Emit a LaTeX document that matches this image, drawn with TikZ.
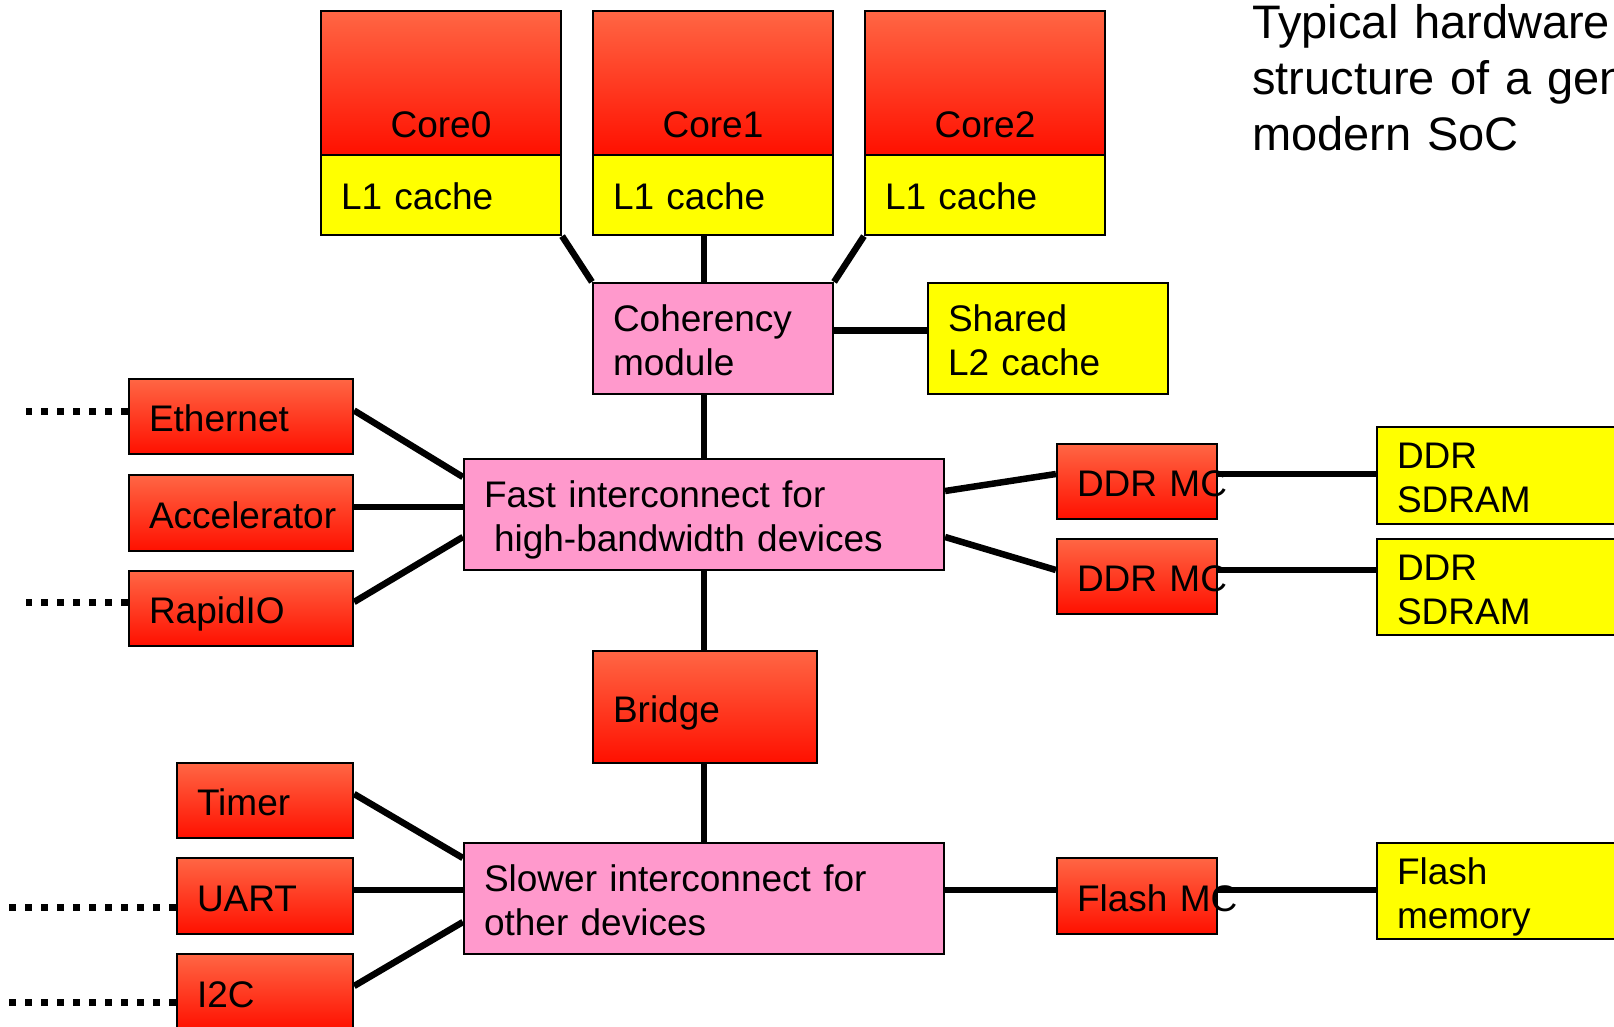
\documentclass[tikz,border=0pt]{standalone}
\usepackage{fontspec}
\setmainfont{Liberation Sans}
\usetikzlibrary{backgrounds}
\definecolor{redtop}{RGB}{255,102,68}
\definecolor{redbottom}{RGB}{255,16,0}
\definecolor{pinkfill}{RGB}{255,153,204}
\definecolor{yellowfill}{RGB}{255,255,0}
\begin{document}
\begin{tikzpicture}[x=1pt, y=-1pt,
  box/.style={draw=black, line width=2.2pt, rectangle, inner xsep=20pt, inner ysep=0pt,
    align=left, font=\fontsize{37}{44}\selectfont, text height=30pt, text depth=0pt},
  twolines/.style={text depth=44pt},
  redbox/.style={box, top color=redtop, bottom color=redbottom},
  pinkbox/.style={box, fill=pinkfill},
  yellowbox/.style={box, fill=yellowfill},
  corebox/.style={redbox, align=center, text height=110pt},
  wire/.style={line width=6.5pt},
  offchip/.style={line width=7pt, dash pattern=on 7pt off 9pt},
  caption/.style={inner sep=0pt, align=left, text width=480pt,
    font=\fontsize{47}{56}\selectfont}
]
\useasboundingbox (0,0) rectangle (1614,1027);
\clip (0,0) rectangle (1614,1027);

% processor cores with their private caches
\node[corebox, minimum width=240pt, minimum height=144pt, text width=200pt] (core0) at (441,83) {Core0};
\node[yellowbox, minimum width=240pt, minimum height=80pt, text width=200pt] (l1a) at (441,195) {L1 cache};
\node[corebox, minimum width=240pt, minimum height=144pt, text width=200pt] (core1) at (713,83) {Core1};
\node[yellowbox, minimum width=240pt, minimum height=80pt, text width=200pt] (l1b) at (713,195) {L1 cache};
\node[corebox, minimum width=240pt, minimum height=144pt, text width=200pt] (core2) at (985,83) {Core2};
\node[yellowbox, minimum width=240pt, minimum height=80pt, text width=200pt] (l1c) at (985,195) {L1 cache};

% coherency and shared cache
\node[pinkbox, twolines, minimum width=240pt, minimum height=111pt, text width=200pt] (coh) at (713,338.5) {Coherency\\module};
\node[yellowbox, twolines, minimum width=240pt, minimum height=111pt, text width=200pt] (l2) at (1048,338.5) {Shared\\L2 cache};

% fast interconnect and its devices
\node[pinkbox, twolines, minimum width=480pt, minimum height=111pt, text width=440pt] (fast) at (704,514.5) {Fast interconnect for\\\hspace*{10pt}high-bandwidth devices};
\node[redbox, minimum width=224pt, minimum height=75pt, text width=184pt] (eth) at (241,416.5) {Ethernet};
\node[redbox, minimum width=224pt, minimum height=76pt, text width=184pt] (acc) at (241,513) {Accelerator};
\node[redbox, minimum width=224pt, minimum height=75pt, text width=184pt] (rio) at (241,608.5) {RapidIO};

% memory controllers and DRAM
\node[redbox, minimum width=160pt, minimum height=75pt, text width=120pt] (ddr1) at (1137,481.5) {\mbox{DDR MC}};
\node[redbox, minimum width=160pt, minimum height=75pt, text width=120pt] (ddr2) at (1137,576.5) {\mbox{DDR MC}};
\node[yellowbox, twolines, minimum width=273pt, minimum height=97pt, text width=233pt] (sd1) at (1513.5,475.5) {DDR\\SDRAM};
\node[yellowbox, twolines, minimum width=273pt, minimum height=96pt, text width=233pt] (sd2) at (1513.5,587) {DDR\\SDRAM};

% bridge and slow interconnect
\node[redbox, minimum width=224pt, minimum height=112pt, text width=184pt] (bridge) at (705,707) {Bridge};
\node[pinkbox, twolines, minimum width=480pt, minimum height=111pt, text width=440pt] (slow) at (704,898.5) {Slower interconnect for\\other devices};
\node[redbox, minimum width=176pt, minimum height=75pt, text width=136pt] (timer) at (265,800.5) {Timer};
\node[redbox, minimum width=176pt, minimum height=76pt, text width=136pt] (uart) at (265,896) {UART};
\node[redbox, minimum width=176pt, minimum height=76pt, text width=136pt] (i2c) at (265,992) {I2C};
\node[redbox, minimum width=160pt, minimum height=76pt, text width=120pt] (flashmc) at (1137,896) {\mbox{Flash MC}};
\node[yellowbox, twolines, minimum width=273pt, minimum height=96pt, text width=233pt] (flash) at (1513.5,891) {Flash\\memory};

% heading
\node[caption, anchor=base west] (title) at (1252,39) {Typical hardware\\structure of a generic\\modern SoC};

% off-chip ends of the external interfaces
\coordinate (eth-far) at (26,411);
\coordinate (rio-far) at (26,602);
\coordinate (uart-far) at (8,907);
\coordinate (i2c-far) at (8,1002);

\begin{scope}[on background layer]
  \draw[wire] (l1a.south east) -- (coh.north west);
  \draw[wire] ([xshift=-9pt]l1b.south) -- ([xshift=-9pt]coh.north);
  \draw[wire] (l1c.south west) -- (coh.north east);
  \draw[wire] ([yshift=8pt]coh.east) -- ([yshift=8pt]l2.west);
  \draw[wire] ([xshift=-9pt]coh.south) -- (fast.north);
  \draw[wire] ([yshift=6pt]eth.east) -- ([yshift=37.5pt]fast.west);
  \draw[wire] ([yshift=6pt]acc.east) -- ([yshift=7.5pt]fast.west);
  \draw[wire] ([yshift=6.5pt]rio.east) -- ([yshift=-22.5pt]fast.west);
  \draw[wire] ([yshift=23.5pt]fast.east) -- ([yshift=7.5pt]ddr1.west);
  \draw[wire] ([yshift=-22.5pt]fast.east) -- ([yshift=6.5pt]ddr2.west);
  \draw[wire] ([yshift=7.5pt]ddr1.east) -- ([yshift=1.5pt]sd1.west);
  \draw[wire] ([yshift=6.5pt]ddr2.east) -- ([yshift=17pt]sd2.west);
  \draw[wire] (fast.south) -- (fast.south |- bridge.north);
  \draw[wire] (slow.north |- bridge.south) -- (slow.north);
  \draw[wire] ([yshift=6.5pt]timer.east) -- ([yshift=40.5pt]slow.west);
  \draw[wire] ([yshift=6pt]uart.east) -- ([yshift=8.5pt]slow.west);
  \draw[wire] ([yshift=6pt]i2c.east) -- ([yshift=-23.5pt]slow.west);
  \draw[wire] ([yshift=8.5pt]slow.east) -- ([yshift=6pt]flashmc.west);
  \draw[wire] ([yshift=6pt]flashmc.east) -- ([yshift=1pt]flash.west);
  \draw[offchip] ([yshift=5.5pt]eth.west) -- (eth-far);
  \draw[offchip] ([yshift=6.5pt]rio.west) -- (rio-far);
  \draw[offchip] ([yshift=-11pt]uart.west) -- (uart-far);
  \draw[offchip] ([yshift=-10pt]i2c.west) -- (i2c-far);
\end{scope}
\end{tikzpicture}
\end{document}
